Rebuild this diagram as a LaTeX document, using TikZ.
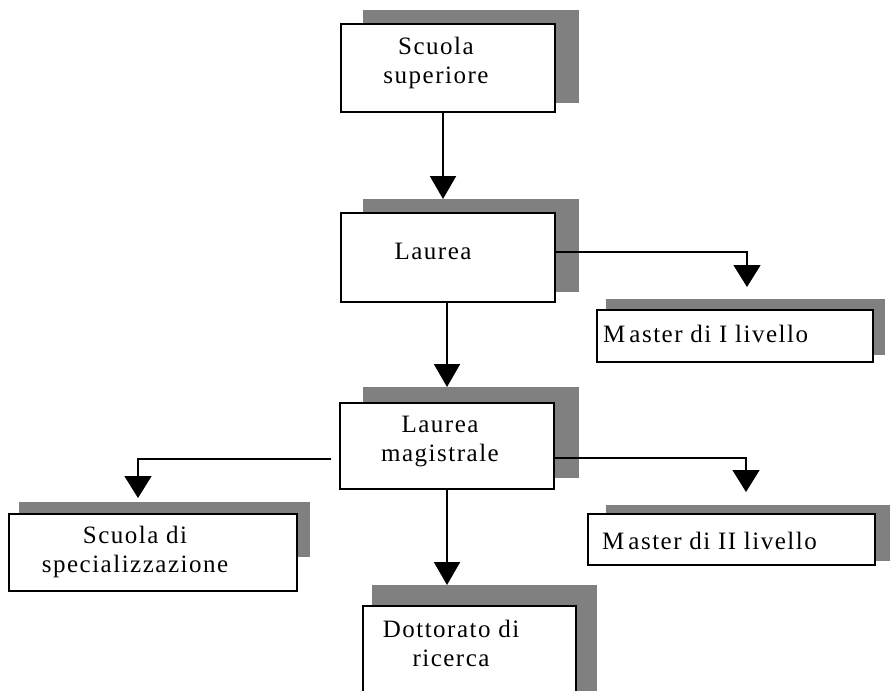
\documentclass[tikz,border=0pt]{standalone}
\usepackage{fontspec}
\setmainfont{Liberation Serif}[LetterSpace=6]
\usetikzlibrary{arrows.meta}
\definecolor{shadowgray}{RGB}{128,128,128}
\begin{document}
\begin{tikzpicture}[x=1pt,y=-1pt,
  shadowbox/.style={fill=shadowgray,draw=none,inner sep=0,outer sep=0},
  box/.style={draw=black,line width=2pt,fill=white,inner sep=0,outer sep=0},
  lbl/.style={inner sep=0,align=center,font=\fontsize{25}{29}\selectfont},
  lbll/.style={inner sep=0,anchor=west,font=\fontsize{25}{29}\selectfont},
  conn/.style={line width=2pt,-{Triangle[width=26pt,length=23pt]}},
  branch/.style={line width=1.6pt,-{Triangle[width=27pt,length=22pt]}}]
\useasboundingbox (0,0) rectangle (890,690);
\clip (0,0) rectangle (890,690);
% shadows
\node[shadowbox,minimum width=216pt,minimum height=93pt] (s1) at (471,56.5) {};
\node[shadowbox,minimum width=216pt,minimum height=93pt] (s2) at (471,245.5) {};
\node[shadowbox,minimum width=216pt,minimum height=91pt] (s3) at (471,432.5) {};
\node[shadowbox,minimum width=279pt,minimum height=56pt] (s4) at (745.5,327) {};
\node[shadowbox,minimum width=284pt,minimum height=56pt] (s5) at (748,533) {};
\node[shadowbox,minimum width=291pt,minimum height=55pt] (s6) at (164.5,529.5) {};
\node[shadowbox,minimum width=225pt,minimum height=115pt] (s7) at (484.5,642.5) {};
% boxes
\node[box,minimum width=214pt,minimum height=88pt] (b1) at (448,68) {};
\node[box,minimum width=214pt,minimum height=89pt] (b2) at (448,257.5) {};
\node[box,minimum width=214pt,minimum height=86pt] (b3) at (447,446) {};
\node[box,minimum width=276pt,minimum height=52pt] (b4) at (735,336) {};
\node[box,minimum width=287pt,minimum height=51pt] (b5) at (731.5,539.5) {};
\node[box,minimum width=288pt,minimum height=77pt] (b6) at (153,552.5) {};
\node[box,minimum width=213pt,minimum height=113pt] (b7) at (469.5,662.5) {};
% texts
\node[lbl] (t1) at (436,63) {Scuola\\superiore};
\node[lbl] (t2) at (433,251) {Laurea};
\node[lbl] (t3) at (440,442) {Laurea\\magistrale};
\node[lbll] (t4) at (603,334) {M\hspace{4pt}aster di I livello};
\node[lbll] (t5) at (602,541) {M\hspace{4pt}aster di II livello};
\node[lbl] (t6) at (135,552) {Scuola di\\specializzazione};
\node[lbl] (t7) at (451,643) {Dottorato di\\ricerca};
% connector end points
\coordinate (c4) at (747,287);
\coordinate (c5) at (746,492);
\coordinate (c6) at (138,498);
% connectors
\draw[conn] ([xshift=-5pt]b1.south) -- ([xshift=-5pt]b1.south |- s2.north);
\draw[conn] ([xshift=-1pt]b2.south) -- ([xshift=-1pt]b2.south |- s3.north);
\draw[conn] (b3.south) -- (b3.south |- s7.north);
\draw[branch] ([yshift=5.5pt]b2.east) -| (c4);
\draw[branch] ([xshift=-9pt,yshift=-13pt]b3.west) -| (c6);
\draw[branch] ([yshift=-12pt]b3.east) -| (c5);
\end{tikzpicture}
\end{document}
